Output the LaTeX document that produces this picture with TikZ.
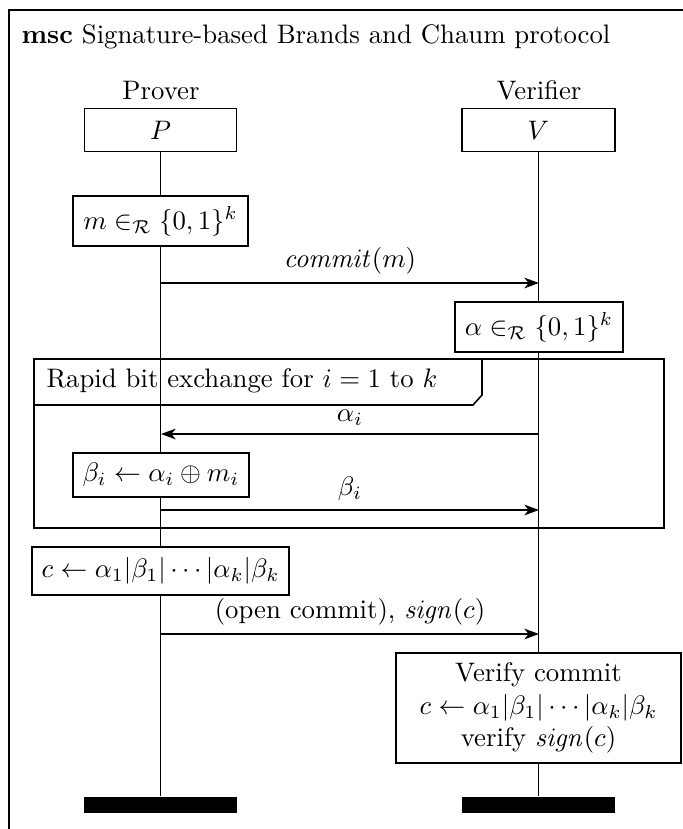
\documentclass[tikz,border=0pt]{standalone}
\usetikzlibrary{arrows.meta}
\newcommand\pxu{0.3738pt}
\begin{document}
\begin{tikzpicture}[x=0.3738pt,y=-0.3738pt,
  box/.style={draw,line width=0.6pt,fill=white,inner sep=0pt,align=center},
  endbar/.style={fill=black,draw=none,inner sep=0pt,minimum width={153*\pxu},minimum height={16*\pxu}},
  life/.style={line width=0.5pt},
  msg/.style={line width=0.6pt,-{Stealth[length=5.5pt,width=4pt,inset=1.6pt]}},
  frm/.style={line width=0.6pt}]
\useasboundingbox (0,0) rectangle (682,829);
% outer frame
\draw[frm] (9,10) rectangle (740,900);
\node[anchor=base west,inner sep=0pt] (title) at (21,43) {\textbf{msc} Signature-based Brands and Chaum protocol};
% instances
\node[anchor=base,inner sep=0pt] (lp) at (161,99) {Prover};
\node[anchor=base,inner sep=0pt] (lv) at (539,99) {Verifier};
\node[box,minimum width={152*\pxu},minimum height={43*\pxu}] (P) at (160.5,130) {$P$};
\node[box,minimum width={153*\pxu},minimum height={43*\pxu}] (V) at (538.5,130) {$V$};
\node[endbar] (endP) at (160.5,805) {};
\node[endbar] (endV) at (538.5,805) {};
\draw[life] (P.south) -- (endP.north);
\draw[life] (V.south) -- (endV.north);
% actions
\node[box,minimum width={175*\pxu},minimum height={50*\pxu}] (mbox) at (160.5,221) {$m \in_{\mathcal{R}} \{0,1\}^k$};
\coordinate (p1) at (161,283);
\coordinate (v1) at (539,283);
\draw[msg] (p1) -- node[above,inner sep=3pt] {$\mathit{commit}(m)$} (v1);
\node[box,minimum width={168*\pxu},minimum height={50*\pxu}] (abox) at (539,327) {$\alpha \in_{\mathcal{R}} \{0,1\}^k$};
% loop frame
\draw[frm] (34,359) rectangle (664,528);
\draw[frm] (34,405) -- (473,405) -- (482,395) -- (482,359);
\node[anchor=base west,inner sep=0pt] (looplabel) at (46,387) {Rapid bit exchange for $i=1$ to $k$};
\coordinate (v2) at (539,434);
\coordinate (p2) at (161,434);
\draw[msg] (v2) -- node[above,inner sep=3pt] {$\alpha_i$} (p2);
\node[box,minimum width={176*\pxu},minimum height={44*\pxu}] (bbox) at (161,475) {$\beta_i \leftarrow \alpha_i \oplus m_i$};
\coordinate (p3) at (161,510);
\coordinate (v3) at (539,510);
\draw[msg] (p3) -- node[above,inner sep=3pt] {$\beta_i$} (v3);
% after loop
\node[box,minimum width={257*\pxu},minimum height={48*\pxu}] (cbox) at (160.5,571) {$c \leftarrow \alpha_1|\beta_1|\cdots|\alpha_k|\beta_k$};
\coordinate (p4) at (161,634);
\coordinate (v4) at (539,634);
\draw[msg] (p4) -- node[above,inner sep=3pt] {(open commit), $\mathit{sign}(c)$} (v4);
\node[box,minimum width={285*\pxu},minimum height={110*\pxu}] (vbox) at (538.5,708) {Verify commit\\ $c \leftarrow \alpha_1|\beta_1|\cdots|\alpha_k|\beta_k$\\ verify $\mathit{sign}(c)$};
\end{tikzpicture}
\end{document}
